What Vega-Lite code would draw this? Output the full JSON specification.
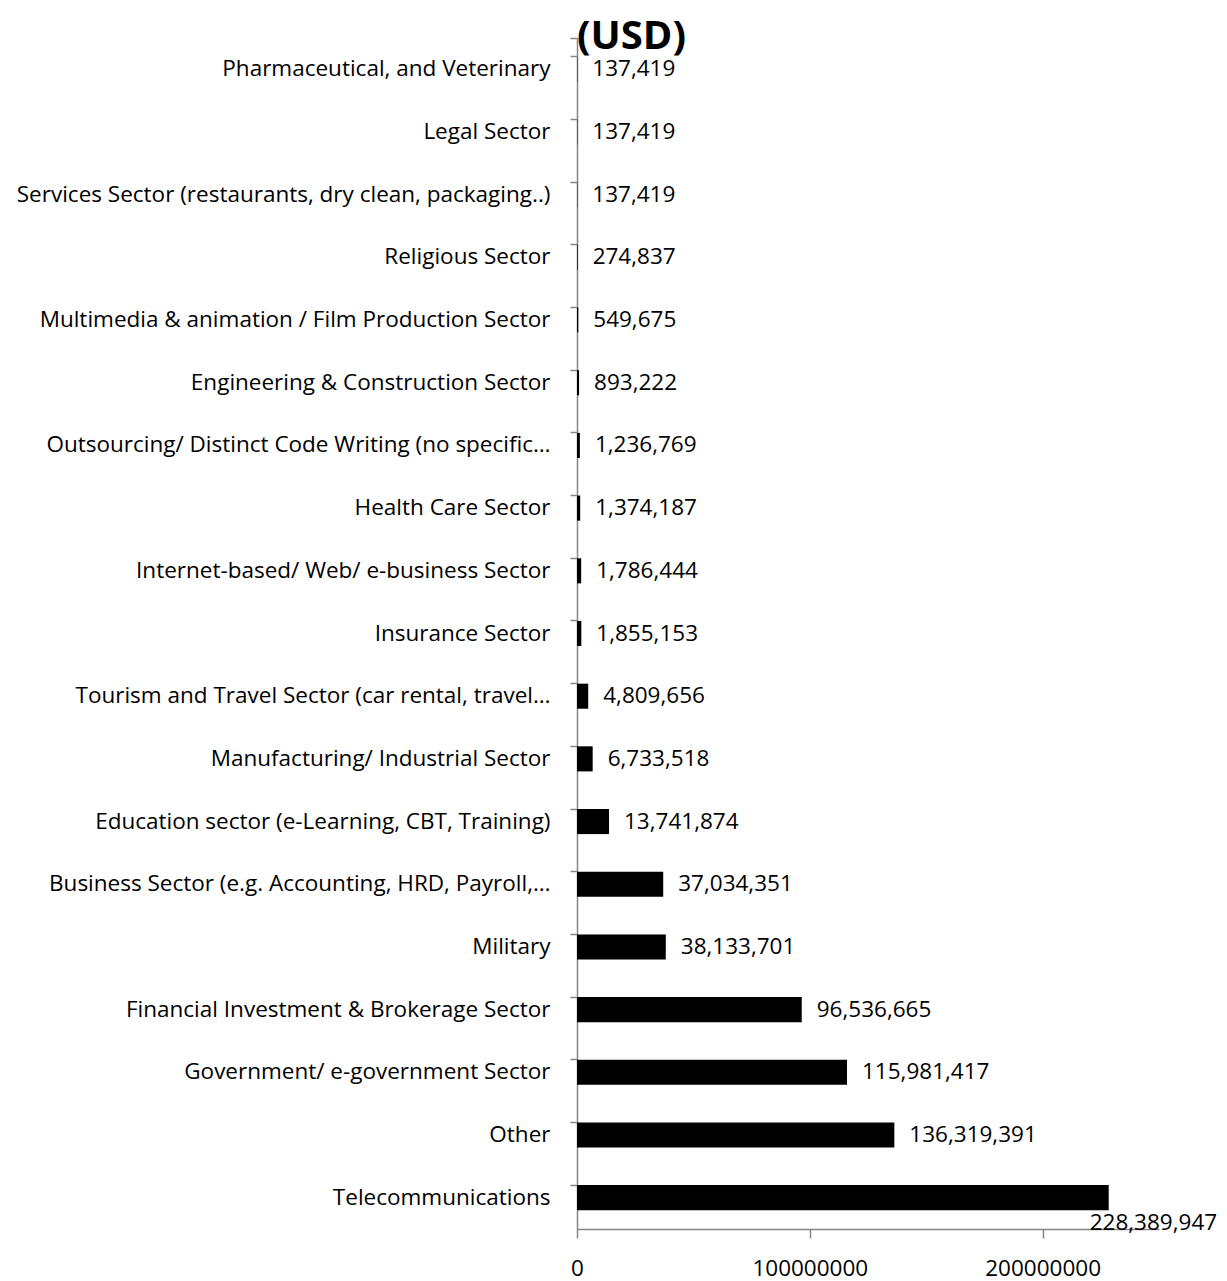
{
  "$schema": "https://vega.github.io/schema/vega-lite/v6.json",
  "width": 582,
  "height": 1191,
  "autosize": {"type": "none"},
  "padding": {"left": 577, "top": 38, "right": 68, "bottom": 52},
  "background": "white",
  "title": {
    "text": "(USD)",
    "anchor": "start",
    "frame": "group",
    "font": "Open Sans",
    "fontSize": 40,
    "fontWeight": "bold",
    "color": "black",
    "baseline": "alphabetic",
    "offset": -62
  },
  "config": {
    "view": {"stroke": null},
    "font": "Open Sans"
  },
  "data": {
    "values": [
      {"sector": "Pharmaceutical, and Veterinary", "value": 137419},
      {"sector": "Legal Sector", "value": 137419},
      {"sector": "Services Sector (restaurants, dry clean, packaging..)", "value": 137419},
      {"sector": "Religious Sector", "value": 274837},
      {"sector": "Multimedia & animation / Film Production Sector", "value": 549675},
      {"sector": "Engineering & Construction Sector", "value": 893222},
      {"sector": "Outsourcing/ Distinct Code Writing (no specific…", "value": 1236769},
      {"sector": "Health Care Sector", "value": 1374187},
      {"sector": "Internet-based/ Web/ e-business Sector", "value": 1786444},
      {"sector": "Insurance Sector", "value": 1855153},
      {"sector": "Tourism and Travel Sector (car rental, travel…", "value": 4809656},
      {"sector": "Manufacturing/ Industrial Sector", "value": 6733518},
      {"sector": "Education sector (e-Learning, CBT, Training)", "value": 13741874},
      {"sector": "Business Sector  (e.g. Accounting, HRD, Payroll,…", "value": 37034351},
      {"sector": "Military", "value": 38133701},
      {"sector": "Financial Investment & Brokerage Sector", "value": 96536665},
      {"sector": "Government/ e-government Sector", "value": 115981417},
      {"sector": "Other", "value": 136319391},
      {"sector": "Telecommunications", "value": 228389947}
    ]
  },
  "encoding": {
    "y": {
      "field": "sector",
      "type": "nominal",
      "sort": null,
      "scale": {"paddingInner": 0.6, "paddingOuter": 0.3},
      "axis": {
        "title": null,
        "bandPosition": 0,
        "tickExtra": true,
        "labelFont": "Open Sans",
        "labelFontSize": 22.5,
        "labelColor": "black",
        "labelLimit": 700,
        "labelPadding": 20,
        "tickSize": 7,
        "tickColor": "#868686",
        "domainColor": "#868686",
        "tickWidth": 1.5,
        "domainWidth": 1.5
      }
    },
    "x": {
      "field": "value",
      "type": "quantitative",
      "scale": {"domain": [0, 250000000], "nice": false},
      "axis": {
        "title": null,
        "values": [0, 100000000, 200000000],
        "format": "d",
        "grid": false,
        "labelFlush": false,
        "labelFont": "Open Sans",
        "labelFontSize": 22.5,
        "labelColor": "black",
        "labelPadding": 19,
        "tickSize": 9,
        "tickColor": "#868686",
        "domainColor": "#868686",
        "tickWidth": 1.5,
        "domainWidth": 1.5
      }
    }
  },
  "layer": [
    {
      "mark": {"type": "bar", "color": "black"}
    },
    {
      "transform": [{"filter": "datum.sector !== 'Telecommunications'"}],
      "mark": {"type": "text", "align": "left", "baseline": "middle", "dx": 15, "font": "Open Sans", "fontSize": 22.5, "color": "black"},
      "encoding": {"text": {"field": "value", "type": "quantitative", "format": ","}}
    },
    {
      "transform": [{"filter": "datum.sector === 'Telecommunications'"}],
      "mark": {"type": "text", "align": "left", "baseline": "middle", "dx": -19, "dy": 25, "font": "Open Sans", "fontSize": 22.5, "color": "black"},
      "encoding": {"text": {"field": "value", "type": "quantitative", "format": ","}}
    }
  ]
}
